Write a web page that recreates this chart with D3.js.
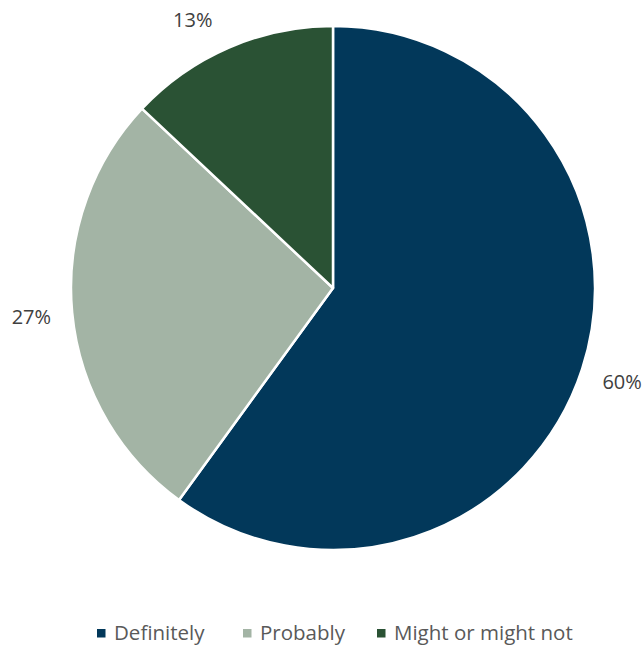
<!DOCTYPE html>
<html><head><meta charset="utf-8">
<script src="https://d3js.org/d3.v7.min.js"></script>
<style>body{margin:0;background:#fff}svg text{font-family:"Open Sans","Noto Sans",sans-serif}</style>
</head><body>
<script>
const categories = ["Definitely", "Probably", "Might or might not"];
const values = [60, 27, 13];
const labels = ["60%", "27%", "13%"];
const colors = ["#02385A", "#A3B4A5", "#2A5234"];

const W = 644, H = 646, cx = 333, cy = 288, R = 262;
const svg = d3.select("body").append("svg").attr("width", W).attr("height", H);
const pie = d3.pie().sort(null).value(d => d)(values);
const arc = d3.arc().innerRadius(0).outerRadius(R);
const g = svg.append("g").attr("transform", `translate(${cx},${cy})`);
g.selectAll("path").data(pie).enter().append("path")
  .attr("d", arc).attr("fill", (d, i) => colors[i])
  .attr("stroke", "#fff").attr("stroke-width", 2.5).attr("stroke-linejoin", "round");

// labels outside the pie, radial placement clamped to the chart area top
const labelR = [R + 42, R + 41, R + 91];
const pos = pie.map((d, i) => {
  const a = (d.startAngle + d.endAngle) / 2;
  const x = Math.sin(a) * labelR[i];
  const y = Math.max(-268, -Math.cos(a) * labelR[i]);
  return [x, y];
});
g.selectAll("text.lbl").data(pie).enter().append("text")
  .attr("class", "lbl")
  .attr("x", (d, i) => pos[i][0])
  .attr("y", (d, i) => pos[i][1] + 7)
  .attr("text-anchor", "middle")
  .attr("fill", "#404040").attr("font-size", 20)
  .text((d, i) => labels[i]);

// legend
const legX = [97, 243, 377];
const leg = svg.append("g");
categories.forEach((c, i) => {
  leg.append("rect").attr("x", legX[i]).attr("y", 629).attr("width", 8.5).attr("height", 8.5).attr("fill", colors[i]);
  leg.append("text").attr("x", legX[i] + 17).attr("y", 640).attr("font-size", 20.5).attr("fill", "#595959").text(c);
});
</script>
</body></html>
